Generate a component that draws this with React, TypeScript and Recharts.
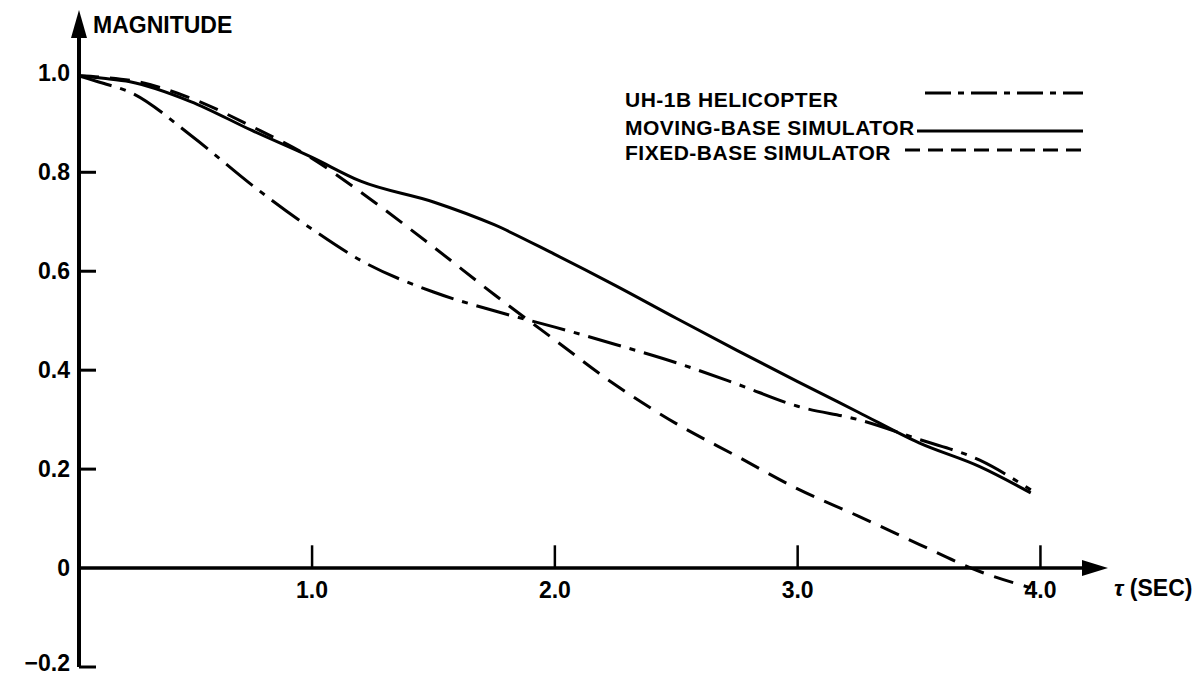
import React from 'react';
import { LineChart, Line, XAxis, YAxis, ReferenceLine, Legend } from 'recharts';

// ---- data ----
const tValues = [0.04, 0.14, 0.25, 0.5, 0.75, 1.0, 1.2, 1.5, 1.75, 2.0, 2.25, 2.5, 2.75, 3.0, 3.25, 3.5, 3.75, 3.96];
const uh1bHelicopter = [0.995, 0.98, 0.962, 0.875, 0.775, 0.685, 0.622, 0.558, 0.52, 0.487, 0.452, 0.415, 0.372, 0.327, 0.3, 0.26, 0.218, 0.158];
const movingBaseSimulator = [0.995, 0.99, 0.983, 0.943, 0.885, 0.83, 0.782, 0.74, 0.694, 0.634, 0.571, 0.505, 0.44, 0.377, 0.315, 0.253, 0.205, 0.152];
const fixedBaseSimulator = [0.995, 0.992, 0.986, 0.95, 0.893, 0.828, 0.76, 0.649, 0.553, 0.461, 0.37, 0.292, 0.226, 0.16, 0.105, 0.048, -0.007, -0.04];

const seriesKeys = ['heli', 'moving', 'fixed'];
const seriesNames = ['UH-1B HELICOPTER', 'MOVING-BASE SIMULATOR', 'FIXED-BASE SIMULATOR'];

const xTickValues = [1, 2, 3, 4];
const xTickLabels = ['1.0', '2.0', '3.0', '4.0'];
const yTickValues = [-0.2, 0, 0.2, 0.4, 0.6, 0.8, 1.0];
const yTickLabels = ['\u22120.2', '0', '0.2', '0.4', '0.6', '0.8', '1.0'];
const yTickMarked = [true, false, true, true, true, true, false];

const X_DOMAIN: [number, number] = [0.04, 4.27];
const Y_DOMAIN: [number, number] = [-0.2, 1.124];
const X_TICK_LEN = 0.046;
const Y_TICK_LEN = 0.07;

const chartData = tValues.map((t, i) => ({
  t,
  heli: uh1bHelicopter[i],
  moving: movingBaseSimulator[i],
  fixed: fixedBaseSimulator[i],
}));

// ---- styles ----
const FONT = "'Liberation Sans', Arial, sans-serif";
const INK = '#000';
const curveDash: Record<string, string | undefined> = {
  heli: '34 9 6 9',
  moving: undefined,
  fixed: '20 11',
};
const legendDash: Record<string, string | undefined> = {
  heli: '26 7 6 7',
  moving: undefined,
  fixed: '15 8',
};

const YAxisShape = (p: any) => {
  const x = p.x1;
  const top = Math.min(p.y1, p.y2);
  const bottom = Math.max(p.y1, p.y2);
  return (
    <g>
      <line x1={x} x2={x} y1={top + 20} y2={bottom} stroke={INK} strokeWidth={4} />
      <polygon points={`${x - 8},${top + 26} ${x},${top - 2} ${x + 8},${top + 26}`} fill={INK} />
      <text x={x + 14} y={top + 21} fontFamily={FONT} fontWeight={700} fontSize={23} fill={INK}>
        MAGNITUDE
      </text>
    </g>
  );
};

const XAxisShape = (p: any) => {
  const y = p.y1;
  const left = Math.min(p.x1, p.x2);
  const right = Math.max(p.x1, p.x2);
  return (
    <g>
      <line x1={left} x2={right - 16} y1={y} y2={y} stroke={INK} strokeWidth={3.5} />
      <polygon points={`${right - 24},${y - 8} ${right + 2},${y} ${right - 24},${y + 8}`} fill={INK} />
      <text x={right + 8} y={y + 28} fontFamily={FONT} fontWeight={700} fontSize={23} fill={INK}>
        <tspan fontStyle="italic">τ</tspan> (SEC)
      </text>
    </g>
  );
};

const makeXTickShape = (label: string) => (p: any) => {
  const x = p.x1;
  const top = Math.min(p.y1, p.y2);
  const bottom = Math.max(p.y1, p.y2);
  return (
    <g>
      <line x1={x} x2={x} y1={top} y2={bottom} stroke={INK} strokeWidth={2.5} />
      <text x={x} y={bottom + 30} textAnchor="middle" fontFamily={FONT} fontWeight={700} fontSize={23} fill={INK}>
        {label}
      </text>
    </g>
  );
};

const makeYTickShape = (label: string, marked: boolean) => (p: any) => {
  const left = Math.min(p.x1, p.x2);
  const right = Math.max(p.x1, p.x2);
  const y = p.y1;
  const baseline = Math.min(y + 8, 671);
  return (
    <g>
      {marked && <line x1={left} x2={right} y1={y} y2={y} stroke={INK} strokeWidth={3} />}
      <text x={left - 9} y={baseline} textAnchor="end" fontFamily={FONT} fontWeight={700} fontSize={23} fill={INK}>
        {label}
      </text>
    </g>
  );
};

const legendRows = [
  { textY: 47, lineY: 33, x1: 325, x2: 483 },
  { textY: 75, lineY: 71, x1: 317, x2: 483 },
  { textY: 100, lineY: 90, x1: 305, x2: 483 },
];

const LegendBox = () => (
  <svg width={500} height={110} style={{ display: 'block', overflow: 'visible' }}>
    {seriesKeys.map((k, i) => (
      <g key={k}>
        <text x={25} y={legendRows[i].textY} fontFamily={FONT} fontWeight={700} fontSize={21} letterSpacing={0.5} fill={INK}>
          {seriesNames[i]}
        </text>
        <line
          x1={legendRows[i].x1}
          x2={legendRows[i].x2}
          y1={legendRows[i].lineY}
          y2={legendRows[i].lineY}
          stroke={INK}
          strokeWidth={3}
          strokeDasharray={legendDash[k]}
        />
      </g>
    ))}
  </svg>
);

export default function App() {
  return (
    <div style={{ position: 'fixed', left: 0, top: 0, width: 1203, height: 676, background: '#fff' }}>
      <LineChart width={1203} height={676} data={chartData} margin={{ top: 12, left: 79, right: 97, bottom: 9 }}>
        <XAxis dataKey="t" type="number" domain={X_DOMAIN} ticks={xTickValues} allowDataOverflow hide />
        <YAxis type="number" domain={Y_DOMAIN} ticks={yTickValues} allowDataOverflow hide />
        <ReferenceLine x={X_DOMAIN[0]} stroke={INK} shape={(p: any) => <YAxisShape {...p} />} />
        <ReferenceLine y={0} stroke={INK} shape={(p: any) => <XAxisShape {...p} />} />
        {xTickValues.map((t, i) => (
          <ReferenceLine
            key={'x' + t}
            segment={[{ x: t, y: 0 }, { x: t, y: X_TICK_LEN }]}
            stroke={INK}
            shape={makeXTickShape(xTickLabels[i])}
          />
        ))}
        {yTickValues.map((v, i) => (
          <ReferenceLine
            key={'y' + v}
            segment={[{ x: X_DOMAIN[0], y: v }, { x: X_DOMAIN[0] + Y_TICK_LEN, y: v }]}
            stroke={INK}
            shape={makeYTickShape(yTickLabels[i], yTickMarked[i])}
          />
        ))}
        {seriesKeys.map((k, i) => (
          <Line
            key={k}
            dataKey={k}
            name={seriesNames[i]}
            type="monotone"
            stroke={INK}
            strokeWidth={3}
            strokeDasharray={curveDash[k]}
            dot={false}
            activeDot={false}
            isAnimationActive={false}
          />
        ))}
        <Legend
          layout="vertical"
          align="center"
          verticalAlign="middle"
          wrapperStyle={{ position: 'absolute', left: 600, top: 60, width: 500, height: 110 }}
          content={() => <LegendBox />}
        />
      </LineChart>
    </div>
  );
}
